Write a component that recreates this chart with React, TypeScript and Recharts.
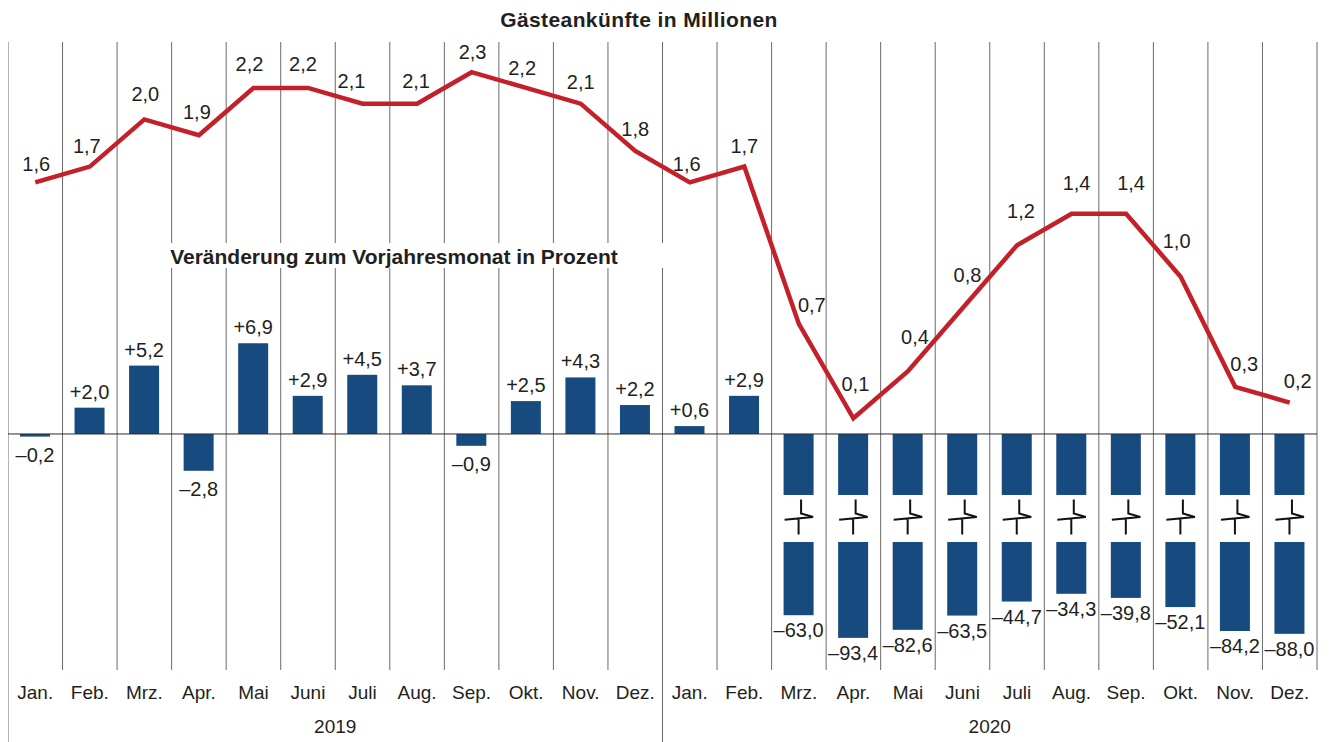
import React from 'react';
import {
  ComposedChart,
  Bar,
  Line,
  XAxis,
  YAxis,
  CartesianGrid,
  ReferenceLine,
  LabelList,
} from 'recharts';

// ---------- data ----------
const MONTHS = ['Jan.', 'Feb.', 'Mrz.', 'Apr.', 'Mai', 'Juni', 'Juli', 'Aug.', 'Sep.', 'Okt.', 'Nov.', 'Dez.'];
const YEARS = ['2019', '2020'];
const ARRIVALS_2019 = [1.6, 1.7, 2.0, 1.9, 2.2, 2.2, 2.1, 2.1, 2.3, 2.2, 2.1, 1.8];
const ARRIVALS_2020 = [1.6, 1.7, 0.7, 0.1, 0.4, 0.8, 1.2, 1.4, 1.4, 1.0, 0.3, 0.2];
const CHANGE_2019 = [-0.2, 2.0, 5.2, -2.8, 6.9, 2.9, 4.5, 3.7, -0.9, 2.5, 4.3, 2.2];
const CHANGE_2020 = [0.6, 2.9, -63.0, -93.4, -82.6, -63.5, -44.7, -34.3, -39.8, -52.1, -84.2, -88.0];

// label placement nudges for the line values (px)
const LINE_LABEL_LIFT = [18, 21, 25, 23, 24, 24, 23, 23, 20, 20, 22, 22, 18, 21, 19, 34, 34, 33, 34, 31, 31, 36, 23, 22];
const LINE_LABEL_DX = [1, -3, 1, -2, -4, -5, -11, -1, 1, -4, 0, 0, -3, 0, 13, 2, 7, 5, 4, 5, 5, -4, 9, 8];

// ---------- layout / style ----------
const FONT = "'Liberation Sans', Arial, Helvetica, sans-serif";
const TEXT = '#231f20';
const BLUE = '#174a7e';
const RED = '#c4202a';
const GRID = '#6a6a6a';
const W = 1316;
const H = 734;
const MARGIN = { top: 34, right: 6, left: 1, bottom: 0 };
const XAXIS_H = 72;
const PLOT_W = W - MARGIN.left - MARGIN.right;
const BW = PLOT_W / 24;
const LABEL_SIZE = 20;
const TICK_SIZE = 19;

// axis domains (shared zero line)
const BAR_DOMAIN: [number, number] = [-17.95, 29.81];
const LINE_DOMAIN: [number, number] = [-1.5, 2.492];

// broken-axis mapping for the large negative changes
const BREAK_LIMIT = -30;
const BREAK_BASE = 10.21;
const BREAK_RATIO = 0.0567;
const BREAK_GAP_START = 61;
const BREAK_GAP_END = 108;

const toPlot = (v: number) => (v < BREAK_LIMIT ? -(BREAK_BASE + Math.abs(v) * BREAK_RATIO) : v);

const data = YEARS.flatMap((year, yi) =>
  MONTHS.map((month, mi) => {
    const arrivals = (yi === 0 ? ARRIVALS_2019 : ARRIVALS_2020)[mi];
    const change = (yi === 0 ? CHANGE_2019 : CHANGE_2020)[mi];
    return {
      key: `${month} ${year}`,
      month,
      monthIndex: mi,
      year,
      arrivals,
      change,
      changePlot: toPlot(change),
      broken: change < BREAK_LIMIT,
    };
  })
);

const fmt = (v: number, signed: boolean) => {
  const s = Math.abs(v).toFixed(1).replace('.', ',');
  if (!signed) return s;
  return (v < 0 ? '\u2013' : '+') + s;
};

const BrokenBar = (props: any) => {
  const { x, y, width, height, payload } = props;
  if (x == null || y == null) return null;
  const top = Math.min(y, y + height);
  const bottom = Math.max(y, y + height);
  if (!payload || !payload.broken) {
    return <rect x={x} y={top} width={width} height={bottom - top} fill={BLUE} />;
  }
  const bTop = top + BREAK_GAP_START;
  const bBot = top + BREAK_GAP_END;
  const cx = x + width / 2;
  const cy = (bTop + bBot) / 2;
  return (
    <g>
      <rect x={x} y={top} width={width} height={bottom - top} fill={BLUE} />
      <rect x={x - 1} y={bTop} width={width + 3} height={bBot - bTop} fill="#ffffff" />
      <path
        d={`M${cx + 2.5},${cy - 19} L${cx + 2.5},${cy - 5} L${cx + 14.5},${cy - 1.5} L${cx - 14},${cy + 1.2} M${cx},${cy + 0.8} L${cx},${cy + 16}`}
        stroke="#111"
        strokeWidth={2}
        fill="none"
      />
    </g>
  );
};

const BarLabel = (props: any) => {
  const vb = props.viewBox && props.viewBox.width != null ? props.viewBox : props;
  const { x, y, width, height } = vb;
  const v = Number(props.value);
  const idx = props.index;
  const row = data[idx];
  const top = Math.min(y, y + height);
  const bottom = Math.max(y, y + height);
  const cx = x + width / 2;
  const ty = v >= 0 ? top - 9 : bottom + (row && row.broken ? 22 : 25);
  return (
    <text x={cx} y={ty} textAnchor="middle" fontSize={LABEL_SIZE} fill={TEXT} fontFamily={FONT}>
      {fmt(v, true)}
    </text>
  );
};

const LineLabel = (props: any) => {
  const vb = props.viewBox || {};
  const x = props.x != null ? props.x : vb.x;
  const y = props.y != null ? props.y : vb.y;
  const idx = props.index;
  const lift = LINE_LABEL_LIFT[idx] ?? 22;
  const dx = LINE_LABEL_DX[idx] ?? 0;
  return (
    <text x={x + dx} y={y - lift + 7} textAnchor="middle" fontSize={LABEL_SIZE} fill={TEXT} fontFamily={FONT}>
      {fmt(Number(props.value), false)}
    </text>
  );
};

const MonthTick = (props: any) => {
  const { x, y, payload } = props;
  const row = data.find((d) => d.key === payload.value);
  if (!row) return null;
  return (
    <g>
      <text x={x} y={y + 29} textAnchor="middle" fontSize={TICK_SIZE} fill={TEXT} fontFamily={FONT}>
        {row.month}
      </text>
      {row.monthIndex === 0 && (
        <line x1={x - BW / 2} x2={x - BW / 2} y1={y} y2={y + XAXIS_H} stroke={GRID} strokeWidth={1} />
      )}
      {row.monthIndex === 5 && (
        <text x={x + BW / 2} y={y + 63} textAnchor="middle" fontSize={TICK_SIZE} fill={TEXT} fontFamily={FONT}>
          {row.year}
        </text>
      )}
    </g>
  );
};

export default function App() {
  return (
    <div
      style={{
        position: 'relative',
        width: W,
        height: H,
        marginLeft: -1,
        fontFamily: FONT,
        background: '#fff',
      }}
    >
      <ComposedChart width={W} height={H} data={data} margin={MARGIN}>
        <CartesianGrid
          horizontal={false}
          vertical
          stroke={GRID}
          strokeWidth={1}
          verticalCoordinatesGenerator={(args: any) => {
            const off = args && args.offset ? args.offset : null;
            const left = off ? off.left : MARGIN.left;
            const w = off ? off.width : PLOT_W;
            return Array.from({ length: 25 }, (_, i) => left + (i * w) / 24);
          }}
        />
        <XAxis
          dataKey="key"
          type="category"
          height={XAXIS_H}
          axisLine={false}
          tickLine={false}
          tickSize={0}
          tickMargin={0}
          interval={0}
          tick={<MonthTick />}
        />
        <YAxis yAxisId="bar" type="number" domain={BAR_DOMAIN} allowDataOverflow hide />
        <YAxis yAxisId="line" type="number" domain={LINE_DOMAIN} allowDataOverflow hide />
        <Bar dataKey="changePlot" yAxisId="bar" barSize={30} shape={BrokenBar} isAnimationActive={false}>
          <LabelList dataKey="change" content={BarLabel} />
        </Bar>
        <ReferenceLine y={0} yAxisId="bar" stroke="#2b2b2b" strokeWidth={1} />
        <Line
          dataKey="arrivals"
          yAxisId="line"
          type="linear"
          stroke={RED}
          strokeWidth={4.5}
          strokeLinejoin="miter"
          dot={false}
          activeDot={false}
          isAnimationActive={false}
        >
          <LabelList dataKey="arrivals" content={LineLabel} />
        </Line>
      </ComposedChart>
      <div
        style={{
          position: 'absolute',
          left: 632,
          top: 0,
          transform: 'translateX(-50%)',
          whiteSpace: 'nowrap',
          fontWeight: 'bold',
          fontSize: 21,
          letterSpacing: 0.4,
          lineHeight: '24px',
          color: TEXT,
        }}
      >
        Gästeankünfte in Millionen
      </div>
      <div
        style={{
          position: 'absolute',
          left: 143,
          top: 235,
          width: 518,
          height: 25,
          background: '#fff',
        }}
      />
      <div
        style={{
          position: 'absolute',
          left: 387,
          top: 237,
          transform: 'translateX(-50%)',
          whiteSpace: 'nowrap',
          fontWeight: 'bold',
          fontSize: 21,
          lineHeight: '24px',
          color: TEXT,
        }}
      >
        Veränderung zum Vorjahresmonat in Prozent
      </div>
    </div>
  );
}
